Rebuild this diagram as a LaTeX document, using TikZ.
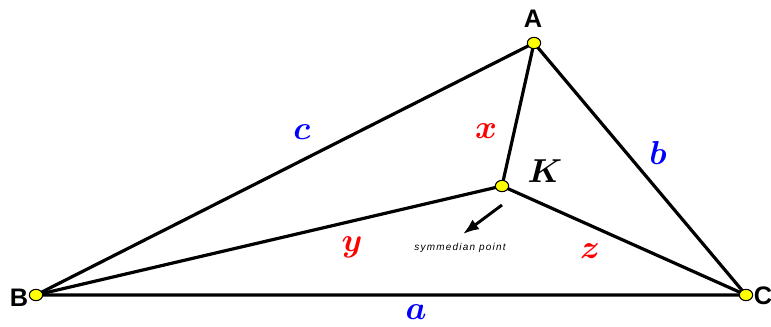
\documentclass[tikz,border=0pt]{standalone}
\usepackage{fontspec}
\setsansfont{Liberation Sans}
\usetikzlibrary{arrows.meta, positioning, shapes.geometric}
\definecolor{cSide}{HTML}{0000FF}
\definecolor{cDist}{HTML}{FF0000}
\definecolor{cDot}{HTML}{FFFF00}

\begin{document}
\begin{tikzpicture}[
  x=0.75pt, y=-0.75pt,
  vdot/.style={draw=black, fill=cDot, ellipse, inner sep=0pt,
    minimum width=10pt, minimum height=8.5pt, line width=0.8pt},
  edge/.style={line width=2.4pt},
  vlabel/.style={font=\sffamily\bfseries\fontsize{19}{21}\selectfont},
  sidelabel/.style={text=cSide, font=\fontsize{25}{27}\selectfont\boldmath},
  distlabel/.style={text=cDist, font=\fontsize{25}{27}\selectfont\boldmath}
]
  \useasboundingbox (0,0) rectangle (771,327);

  % vertices and the symmedian point
  \coordinate (A) at (534,43);
  \coordinate (B) at (36,295);
  \coordinate (C) at (746,295);
  \coordinate (K) at (502,186);

  \draw[edge] (A) -- (B) -- (C) -- cycle;
  \draw[edge] (K) -- (A) (K) -- (B) (K) -- (C);

  \node[vdot] (dA) at (A) {};
  \node[vdot] (dB) at (B) {};
  \node[vdot] (dC) at (C) {};
  \node[vdot] (dK) at (K) {};

  \node[vlabel] (lA) at (533,19) {A};
  \node[vlabel] (lB) at (19,298) {B};
  \node[vlabel] (lC) at (763,296) {C};
  \node[font=\fontsize{27}{30}\selectfont\boldmath] (lK) at (545,171) {$K$};

  \node[sidelabel] (la) at (416,312) {$a$};
  \node[sidelabel] (lb) at (658,153) {$b$};
  \node[sidelabel] (lc) at (302,132) {$c$};

  \node[distlabel] (lx) at (486,131) {$x$};
  \node[distlabel] (ly) at (352,247) {$y$};
  \node[distlabel] (lz) at (590,251) {$z$};

  % pointer to K
  \node[font=\sffamily\itshape\fontsize{7.5}{9}\selectfont\addfontfeature{LetterSpace=12}] (sym) at (460,248) {symmedian point};
  \coordinate (tail) at (502,205);
  \coordinate (head) at (463,234);
  \draw[line width=2.2pt, -{Latex[length=12pt,width=9pt]}] (tail) -- (head);
\end{tikzpicture}
\end{document}
